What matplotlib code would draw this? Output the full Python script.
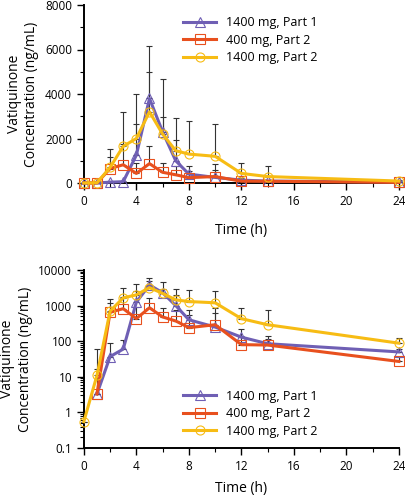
import numpy as np
import matplotlib.pyplot as plt
from matplotlib.ticker import MultipleLocator, LogLocator, NullFormatter

plt.rcParams['font.family'] = ['Open Sans', 'DejaVu Sans']

# sampling times (h)
time_h = [0, 1, 2, 3, 4, 5, 6, 7, 8, 10, 12, 14, 24]

# mean concentrations (ng/mL)
p1_1400 = [0, 3.3, 37, 60, 1250, 3800, 2300, 1000, 400, 250, 130, 85, 50]
p2_400 = [0, 3.3, 650, 820, 430, 870, 480, 370, 240, 290, 80, 78, 27]
p2_1400 = [0.55, 11, 700, 1650, 2000, 3200, 2200, 1450, 1300, 1200, 430, 290, 88]

# upper error (SD)
p1_1400_sd = [0, 0, 53, 50, 1380, 1200, 2370, 950, 360, 350, 90, 55, 10]
p2_400_sd = [0, 13, 500, 930, 460, 790, 400, 380, 310, 560, 60, 40, 8]
p2_1400_sd = [0, 50, 830, 1530, 2000, 2950, 780, 1480, 1480, 1440, 450, 460, 37]

labels = ['1400 mg, Part 1', '400 mg, Part 2', '1400 mg, Part 2']
colors = ['#6F5FB4', '#E8501E', '#F7BC14']
markers = ['^', 's', 'o']
means = [p1_1400, p2_400, p2_1400]
sds = [p1_1400_sd, p2_400_sd, p2_1400_sd]

fig = plt.figure(figsize=(4.05, 5.0), dpi=100)
ax1 = fig.add_axes([0.207, 0.634, 0.778, 0.356])
ax2 = fig.add_axes([0.207, 0.104, 0.778, 0.356])

for ax, logscale in [(ax1, False), (ax2, True)]:
    for m, s, lab, c, mk in zip(means, sds, labels, colors, markers):
        m = np.array(m, dtype=float)
        s = np.array(s, dtype=float)
        if logscale:
            m = np.where(m > 0, m, np.nan)
        ax.errorbar(time_h, m, yerr=[np.zeros_like(s), s], fmt='none',
                    ecolor='#333333', elinewidth=0.8, capsize=2.5, capthick=0.8,
                    zorder=2, clip_on=False)
        ax.plot(time_h, m, color=c, lw=2.2, marker=mk, ms=6.5,
                mfc='none', mec=c, mew=0.8, label=lab, zorder=3, clip_on=False)

    ax.set_xlim(0, 24)
    ax.xaxis.set_major_locator(MultipleLocator(4))
    ax.xaxis.set_minor_locator(MultipleLocator(2))
    for side in ['top', 'right']:
        ax.spines[side].set_visible(False)
    for side in ['left', 'bottom']:
        ax.spines[side].set_linewidth(1.4)
    ax.tick_params(which='major', direction='out', length=5, width=1, labelsize=8.5)
    ax.tick_params(which='minor', direction='out', length=3, width=0.8)
    ax.set_ylabel('Vatiquinone\nConcentration (ng/mL)', fontsize=10, labelpad=4)

ax1.set_xlabel('Time (h)', fontsize=10, labelpad=11)
ax2.set_xlabel('Time (h)', fontsize=10, labelpad=6)

ax1.set_ylim(0, 8000)
ax1.yaxis.set_major_locator(MultipleLocator(2000))
ax1.yaxis.set_minor_locator(MultipleLocator(1000))
ax1.legend(loc='upper left', bbox_to_anchor=(0.30, 0.965), frameon=False,
           fontsize=9, handlelength=2.6, labelspacing=0.35, borderaxespad=0)

ax2.set_yscale('log')
ax2.set_ylim(0.1, 10000)
ax2.set_yticks([0.1, 1, 10, 100, 1000, 10000])
ax2.set_yticklabels(['0.1', '1', '10', '100', '1000', '10000'])
ax2.yaxis.set_minor_locator(LogLocator(base=10, subs=np.arange(2, 10)))
ax2.yaxis.set_minor_formatter(NullFormatter())
ax2.legend(loc='upper left', bbox_to_anchor=(0.30, 0.355), frameon=False,
           fontsize=9, handlelength=2.6, labelspacing=0.35, borderaxespad=0)

fig.savefig('out.png', dpi=100)
